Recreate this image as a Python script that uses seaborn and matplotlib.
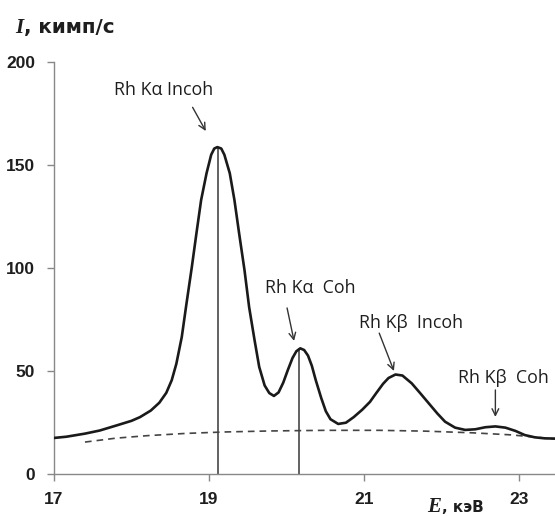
import matplotlib
matplotlib.use("Agg")
import matplotlib.pyplot as plt
import seaborn as sns
import pandas as pd

# spectrum
energy = [17.0, 17.16, 17.4, 17.59, 17.81, 18.0, 18.11, 18.25, 18.36, 18.45,
          18.52, 18.58, 18.65, 18.71, 18.78, 18.84, 18.90, 18.97, 19.03, 19.07,
          19.11, 19.16, 19.20, 19.27, 19.33, 19.39, 19.46, 19.52, 19.59, 19.65,
          19.72, 19.78, 19.84, 19.90, 19.96, 20.02, 20.08, 20.13, 20.18, 20.23,
          20.28, 20.33, 20.38, 20.45, 20.51, 20.57, 20.67, 20.77, 20.87, 20.98,
          21.08, 21.16, 21.25, 21.32, 21.41, 21.50, 21.62, 21.73, 21.84, 21.95,
          22.05, 22.18, 22.31, 22.44, 22.57, 22.70, 22.83, 22.96, 23.08, 23.21,
          23.34, 23.47]
intensity = [17.5, 18.1, 19.6, 21.1, 23.6, 25.8, 27.6, 30.8, 34.6, 39.4,
             45.5, 53.5, 66.5, 82.5, 100.5, 117.0, 133.0, 146.0, 155.0, 158.0,
             158.7, 158.0, 155.0, 146.0, 133.0, 117.0, 99.0, 81.0, 65.0, 52.0,
             43.0, 39.3, 37.9, 39.6, 44.3, 50.5, 56.3, 59.6, 61.0, 60.2,
             57.5, 52.5, 45.6, 37.0, 30.5, 26.6, 24.3, 24.9, 27.6, 31.2,
             35.0, 39.2, 43.8, 46.6, 48.3, 47.8, 44.0, 39.2, 34.3, 29.4,
             25.4, 22.5, 21.4, 21.7, 22.7, 23.1, 22.5, 20.9, 18.9, 17.8,
             17.3, 17.2]

# background (dashed)
bg_energy = [17.4, 17.8, 18.2, 18.7, 19.2, 19.8, 20.5, 21.2, 21.8, 22.4, 22.9, 23.47]
bg_intensity = [15.5, 17.4, 18.6, 19.7, 20.4, 20.9, 21.2, 21.2, 20.8, 20.0, 19.0, 17.0]

# vertical marker lines
line_E = [19.12, 20.16]
line_I = [158.7, 61.0]

# annotations: label, text pos, arrow start, arrow end
labels = ["Rh K\u03b1 Incoh", "Rh K\u03b1  Coh", "Rh K\u03b2  Incoh", "Rh K\u03b2  Coh"]
label_xy = [(18.42, 186.4), (20.31, 90.3), (21.61, 73.3), (22.80, 46.6)]
arrow_from = [(18.79, 178.0), (20.01, 80.6), (21.20, 68.4), (22.70, 40.8)]
arrow_to = [(18.96, 166.5), (20.10, 64.6), (21.39, 50.0), (22.70, 27.7)]

xticks = [17, 19, 21, 23]
yticks = [0, 50, 100, 150, 200]

sns.set_theme(style="ticks")
plt.rcParams['font.family'] = ['Liberation Sans', 'DejaVu Sans']

df = pd.DataFrame({'E': energy, 'I': intensity})
bg = pd.DataFrame({'E': bg_energy, 'I': bg_intensity})

fig = plt.figure(figsize=(5.55, 5.16), dpi=100)
ax = fig.add_axes([0.0973, 0.0814, 0.9027, 0.7984])

ax.vlines(line_E, 0, line_I, color='#555555', lw=1.3, zorder=1)
sns.lineplot(data=bg, x='E', y='I', ax=ax, color='#444444', lw=1.2,
             linestyle=(0, (4, 3)), zorder=2)
sns.lineplot(data=df, x='E', y='I', ax=ax, color='#1a1a1a', lw=1.9, zorder=3)

for lab, txy, a0, a1 in zip(labels, label_xy, arrow_from, arrow_to):
    ax.text(txy[0], txy[1], lab, ha='center', va='center', fontsize=12.8,
            family=['Open Sans', 'DejaVu Sans'], color='#1e1e1e')
    ax.annotate('', xy=a1, xytext=a0,
                arrowprops=dict(arrowstyle='->', color='#333333', lw=1.0,
                                mutation_scale=12, shrinkA=0, shrinkB=0))

ax.set_xlim(17, 23.47)
ax.set_ylim(0, 200)
ax.set_xticks(xticks)
ax.set_yticks(yticks)
ax.set_xticklabels([str(t) for t in xticks], fontweight='bold', fontsize=12.5)
ax.set_yticklabels([str(t) for t in yticks], fontweight='bold', fontsize=12.5)
ax.tick_params(axis='both', length=5, width=1, color='#888888', labelcolor='#1e1e1e')
ax.tick_params(axis='y', pad=8.5)
ax.tick_params(axis='x', pad=8)
ax.set_xlabel('')
ax.set_ylabel('')
sns.despine(ax=ax)
for s in ['left', 'bottom']:
    ax.spines[s].set_color('#888888')
    ax.spines[s].set_linewidth(1.0)

# axis titles: italic serif symbol, then bold sans unit
fig.canvas.draw()
rend = fig.canvas.get_renderer()


def axis_title(x_px, y_px, sym, unit, size_sym, size_unit):
    t = fig.text(x_px / 555, 1 - y_px / 516, sym, fontsize=size_sym, fontweight='bold',
                 style='italic', family='Liberation Serif', va='baseline', ha='left',
                 color='#1e1e1e')
    bb = t.get_window_extent(renderer=rend)
    fig.text(bb.x1 / fig.bbox.width + 1 / 555, 1 - y_px / 516, unit, fontsize=size_unit,
             fontweight='bold', family='DejaVu Sans', va='baseline', ha='left',
             color='#1e1e1e')


axis_title(15, 33, 'I', ', кимп/с', 15, 14.3)
axis_title(427, 512, 'E', ', кэВ', 15, 11)

fig.savefig('out.png', dpi=100)
